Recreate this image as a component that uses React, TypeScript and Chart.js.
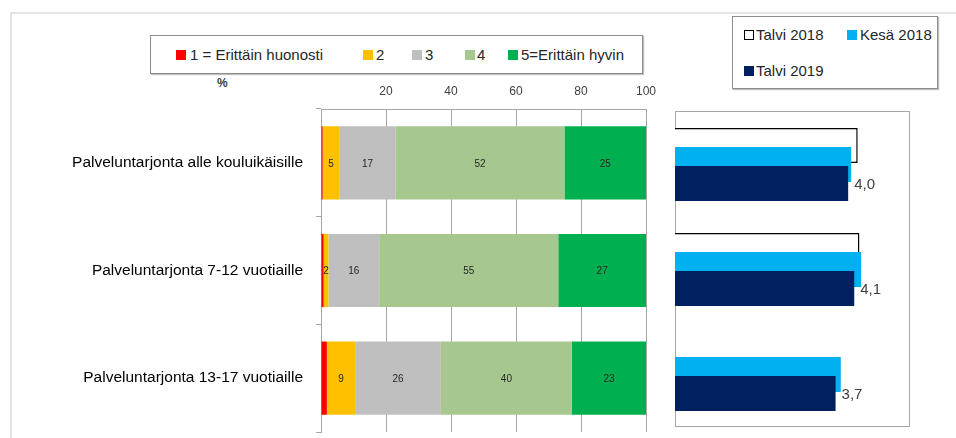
import React, { useEffect, useRef } from 'react';
import { Chart, registerables } from 'chart.js';

Chart.register(...registerables);

// ---------- data ----------
const categories = [
  'Palveluntarjonta alle kouluikäisille',
  'Palveluntarjonta 7-12 vuotiaille',
  'Palveluntarjonta 13-17 vuotiaille',
];
const ratingLabels = ['1 = Erittäin huonosti', '2', '3', '4', '5=Erittäin hyvin'];
const rating1 = [0.5, 0.8, 1.8];
const rating2 = [5.1, 1.5, 8.7];
const rating3 = [17.4, 15.6, 26.4];
const rating4 = [51.9, 55.1, 40.3];
const rating5 = [25.1, 27.0, 22.8];
const percentTickStep = 20;
const percentMax = 100;

const seasonLabels = ['Talvi 2018', 'Kesä 2018', 'Talvi 2019'];
const talvi2018 = [4.21, 4.25, null];
const kesa2018 = [4.06, 4.29, 3.82];
const talvi2019 = [3.99, 4.13, 3.7];
const meanMax = 5;

// ---------- styles ----------
const FONT = '"Liberation Sans", Arial, sans-serif';
const ratingColors = ['#FF0000', '#FFC000', '#BFBFBF', '#A6C88F', '#00B050'];
const seasonFill = ['#FFFFFF', '#00B0F0', '#002060'];
const seasonBorder = ['#000000', '#00B0F0', '#002060'];

const segmentLabels = {
  id: 'segmentLabels',
  afterDatasetsDraw(chart: any) {
    const ctx = chart.ctx;
    ctx.save();
    ctx.font = `10px ${FONT}`;
    ctx.fillStyle = '#262626';
    ctx.textAlign = 'center';
    ctx.textBaseline = 'middle';
    chart.data.datasets.forEach((ds: any, di: number) => {
      if (di === 0) return;
      const meta = chart.getDatasetMeta(di);
      meta.data.forEach((bar: any, i: number) => {
        const v = ds.data[i];
        if (v == null) return;
        const p = bar.getProps(['x', 'base', 'y'], true);
        ctx.fillText(String(Math.round(v)), (p.x + p.base) / 2, p.y + 1);
      });
    });
    ctx.restore();
  },
};

const orderedBars = {
  id: 'orderedBars',
  beforeDatasetsDraw(chart: any) {
    const a = chart.chartArea;
    const ctx = chart.ctx;
    ctx.save();
    ctx.beginPath();
    ctx.rect(a.left, a.top - 4, a.width + 60, a.height + 8);
    ctx.clip();
    for (let i = 0; i < chart.data.datasets.length; i++) {
      const meta = chart.getDatasetMeta(i);
      if (!meta.hidden) meta.controller.draw();
    }
    ctx.restore();
    return false;
  },
  afterDraw(chart: any) {
    const ctx = chart.ctx;
    const di = chart.data.datasets.length - 1;
    const ds = chart.data.datasets[di];
    const meta = chart.getDatasetMeta(di);
    ctx.save();
    ctx.font = `15px ${FONT}`;
    ctx.fillStyle = '#404040';
    ctx.textAlign = 'left';
    ctx.textBaseline = 'middle';
    meta.data.forEach((bar: any, i: number) => {
      const v = ds.data[i];
      if (v == null) return;
      const p = bar.getProps(['x', 'y'], true);
      ctx.fillText(v.toFixed(1).replace('.', ','), p.x + 6, p.y + 1);
    });
    ctx.restore();
  },
};

function StackedChart() {
  const ref = useRef<HTMLCanvasElement>(null);
  useEffect(() => {
    const series = [rating1, rating2, rating3, rating4, rating5];
    const chart = new Chart(ref.current!, {
      type: 'bar',
      data: {
        labels: categories,
        datasets: series.map((d, i) => ({
          label: ratingLabels[i],
          data: d,
          backgroundColor: ratingColors[i],
          borderWidth: 0,
          categoryPercentage: 1,
          barPercentage: 0.68,
        })),
      },
      options: {
        indexAxis: 'y',
        responsive: false,
        animation: false,
        events: [],
        layout: { padding: { top: 0, right: 14, bottom: 6, left: 0 } },
        plugins: { legend: { display: false }, tooltip: { enabled: false } },
        scales: {
          x: {
            position: 'top',
            stacked: true,
            min: 0,
            max: percentMax,
            ticks: {
              stepSize: percentTickStep,
              callback: (v: any) => (v === 0 ? '' : String(v)),
              padding: 10,
              color: '#404040',
              font: { family: FONT, size: 12 },
              maxRotation: 0,
            },
            grid: { color: '#a6a6a6', drawTicks: false, lineWidth: 1 },
            border: { color: '#a6a6a6', width: 1 },
            afterFit: (s: any) => {
              s.height = 109;
              s.paddingLeft = 0;
              s.paddingRight = 0;
            },
          },
          y: {
            stacked: true,
            ticks: { color: '#000000', font: { family: FONT, size: 15.5 }, padding: 13 },
            grid: {
              drawOnChartArea: false,
              drawTicks: true,
              tickLength: 5,
              color: '#a6a6a6',
              offset: true,
            },
            border: { color: '#a6a6a6', width: 1 },
            afterFit: (s: any) => {
              s.width = 321;
              s.paddingTop = 0;
              s.paddingBottom = 0;
            },
          },
        },
      } as any,
      plugins: [segmentLabels],
    });
    return () => chart.destroy();
  }, []);
  return (
    <canvas
      ref={ref}
      width={660}
      height={438}
      style={{ position: 'absolute', left: 0, top: 0, width: 660, height: 438 }}
    />
  );
}

function MeanChart() {
  const ref = useRef<HTMLCanvasElement>(null);
  useEffect(() => {
    const series = [talvi2018, kesa2018, talvi2019];
    const chart = new Chart(ref.current!, {
      type: 'bar',
      data: {
        labels: categories,
        datasets: series.map((d, i) => ({
          label: seasonLabels[i],
          data: d,
          backgroundColor: seasonFill[i],
          borderColor: seasonBorder[i],
          borderWidth: i === 0 ? 1.5 : 0,
          categoryPercentage: 0.543,
          barPercentage: 1.85,
        })),
      },
      options: {
        indexAxis: 'y',
        responsive: false,
        animation: false,
        events: [],
        layout: { padding: { top: 12, right: 64, bottom: 11, left: 15 } },
        plugins: { legend: { display: false }, tooltip: { enabled: false } },
        scales: {
          x: { display: false, min: 0, max: meanMax },
          y: { display: false },
        },
      } as any,
      plugins: [orderedBars],
    });
    return () => chart.destroy();
  }, []);
  return (
    <canvas
      ref={ref}
      width={296}
      height={338}
      style={{ position: 'absolute', left: 660, top: 100, width: 296, height: 338 }}
    />
  );
}

const legendText: React.CSSProperties = {
  position: 'absolute',
  fontFamily: FONT,
  fontSize: 15,
  color: '#262626',
  whiteSpace: 'nowrap',
  lineHeight: '18px',
};

function Swatch({ x, y, fill, border }: { x: number; y: number; fill: string; border?: string }) {
  return (
    <div
      style={{
        position: 'absolute',
        left: x,
        top: y - 5,
        width: 10,
        height: 10,
        boxSizing: 'border-box',
        background: fill,
        border: border ? `1.5px solid ${border}` : 'none',
      }}
    />
  );
}

export default function App() {
  const leftItems = [
    { sx: 176, tx: 190 },
    { sx: 363, tx: 376 },
    { sx: 412, tx: 425 },
    { sx: 465, tx: 477 },
    { sx: 508, tx: 521 },
  ];
  const rightItems = [
    { sx: 744, tx: 756, y: 35 },
    { sx: 847, tx: 860, y: 35 },
    { sx: 744, tx: 756, y: 71 },
  ];
  return (
    <div
      style={{
        position: 'absolute',
        left: 0,
        top: 0,
        width: 956,
        height: 438,
        overflow: 'hidden',
        background: '#ffffff',
      }}
    >
      <div
        style={{
          position: 'absolute',
          left: 10,
          top: 12,
          width: 960,
          height: 440,
          borderTop: '2px solid #e4e4e4',
          borderLeft: '2px solid #e4e4e4',
        }}
      />
      {/* left legend */}
      <div
        style={{
          position: 'absolute',
          left: 150,
          top: 35,
          width: 493,
          height: 39,
          boxSizing: 'border-box',
          border: '1px solid #8c8c8c',
          boxShadow: '1px 1px 1px rgba(0,0,0,0.25)',
        }}
      />
      {leftItems.map((it, i) => (
        <React.Fragment key={i}>
          <Swatch x={it.sx} y={55} fill={ratingColors[i]} />
          <div style={{ ...legendText, left: it.tx, top: 46 }}>{ratingLabels[i]}</div>
        </React.Fragment>
      ))}
      <div
        style={{
          position: 'absolute',
          left: 217,
          top: 76,
          fontFamily: FONT,
          fontSize: 12,
          fontWeight: 'bold',
          color: '#404040',
        }}
      >
        %
      </div>
      {/* right legend */}
      <div
        style={{
          position: 'absolute',
          left: 732,
          top: 16,
          width: 206,
          height: 73,
          boxSizing: 'border-box',
          border: '1px solid #8c8c8c',
          boxShadow: '1px 1px 1px rgba(0,0,0,0.25)',
        }}
      />
      {rightItems.map((it, i) => (
        <React.Fragment key={i}>
          <Swatch x={it.sx} y={it.y} fill={seasonFill[i]} border={i === 0 ? '#000' : undefined} />
          <div style={{ ...legendText, left: it.tx, top: it.y - 9 }}>{seasonLabels[i]}</div>
        </React.Fragment>
      ))}
      {/* right chart frame */}
      <div
        style={{
          position: 'absolute',
          left: 675,
          top: 111,
          width: 235,
          height: 316,
          boxSizing: 'border-box',
          border: '1.5px solid #a6a6a6',
        }}
      />
      <StackedChart />
      <MeanChart />
    </div>
  );
}
